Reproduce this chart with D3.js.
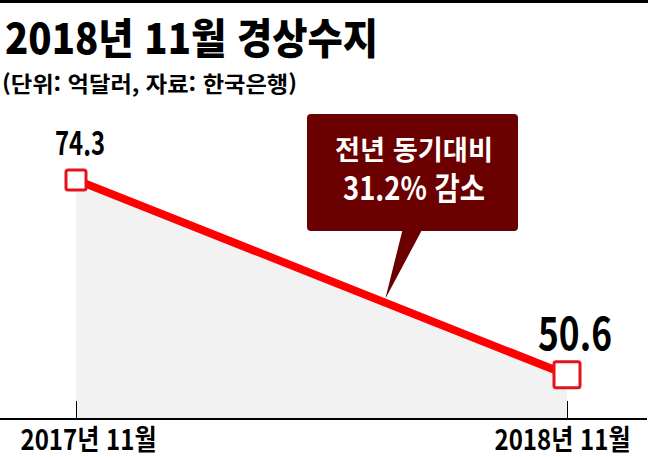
<!DOCTYPE html>
<html lang="ko">
<head>
    <meta charset="utf-8">
    <title>2018년 11월 경상수지</title>
    <style>
        body {
            margin: 0;
            background: #fff;
        }
        svg text {
            font-family: "Noto Sans CJK KR", "Noto Sans", sans-serif;
        }
    </style>
</head>
<body>
    <div id="chart"></div>

    <script src="https://d3js.org/d3.v7.min.js"></script>
    <script>
        // Data
        const months = ["2017년 11월", "2018년 11월"];
        const balance = [74.3, 50.6];
        const titleText = "2018년 11월 경상수지";
        const subtitleText = "(단위: 억달러, 자료: 한국은행)";
        const noteLines = ["전년 동기대비", "31.2% 감소"];

        const width = 648, height = 457;
        const baseY = 419;

        const svg = d3.select("#chart")
            .append("svg")
            .attr("width", width)
            .attr("height", height);

        // top rule
        svg.append("rect")
            .attr("x", 0).attr("y", 0)
            .attr("width", width).attr("height", 3)
            .attr("fill", "#000");

        // title + subtitle
        svg.append("text")
            .attr("x", 5).attr("y", 54)
            .attr("font-size", 42)
            .attr("font-weight", 900)
            .attr("textLength", 373)
            .attr("lengthAdjust", "spacingAndGlyphs")
            .text(titleText);

        svg.append("text")
            .attr("x", 2).attr("y", 92)
            .attr("font-size", 22)
            .attr("font-weight", 700)
            .attr("textLength", 295)
            .attr("lengthAdjust", "spacingAndGlyphs")
            .text(subtitleText);

        // Scales
        const x = d3.scalePoint().domain(months).range([76, 567]);
        const y = d3.scaleLinear().domain([40, 80]).range([462, 133]);

        const pts = months.map((m, i) => ({ m, v: balance[i] }));

        // grey area under the line
        const area = d3.area()
            .x(d => x(d.m))
            .y0(baseY)
            .y1(d => y(d.v));

        svg.append("path")
            .datum(pts)
            .attr("d", area)
            .attr("fill", "#f2f2f2");

        // axis: ticks pointing up, labels below
        const axis = svg.append("g")
            .attr("transform", `translate(0,${baseY})`)
            .call(d3.axisBottom(x).tickSize(-18).tickPadding(13));
        axis.select(".domain").remove();
        axis.selectAll(".tick line").attr("stroke", "#000").attr("stroke-width", 1);
        axis.selectAll(".tick text")
            .attr("fill", "#000")
            .attr("font-size", 28)
            .attr("font-weight", 700)
            .attr("dy", "0.64em")
            .attr("textLength", 136)
            .attr("lengthAdjust", "spacingAndGlyphs")
            .attr("dx", (d, i) => i === 0 ? 12 : -5);

        // baseline
        svg.append("line")
            .attr("x1", 0).attr("x2", width - 1)
            .attr("y1", baseY).attr("y2", baseY)
            .attr("stroke", "#000")
            .attr("stroke-width", 2);

        // red line
        const line = d3.line().x(d => x(d.m)).y(d => y(d.v));
        svg.append("path")
            .datum(pts)
            .attr("d", line)
            .attr("fill", "none")
            .attr("stroke", "#ff0000")
            .attr("stroke-width", 8);

        // markers
        const sizes = [20, 26];
        svg.selectAll("rect.marker")
            .data(pts)
            .join("rect")
            .attr("class", "marker")
            .attr("x", (d, i) => x(d.m) - sizes[i] / 2)
            .attr("y", (d, i) => y(d.v) - sizes[i] / 2)
            .attr("width", (d, i) => sizes[i])
            .attr("height", (d, i) => sizes[i])
            .attr("rx", 2)
            .attr("fill", "#fff")
            .attr("stroke", "#e3131b")
            .attr("stroke-width", 3);

        // value labels
        const lblSize = [32, 45], lblLen = [50, 74], lblDx = [4, 8], lblGap = [25, 25];
        svg.selectAll("text.val")
            .data(pts)
            .join("text")
            .attr("class", "val")
            .attr("x", (d, i) => x(d.m) + lblDx[i])
            .attr("y", (d, i) => y(d.v) - lblGap[i])
            .attr("text-anchor", "middle")
            .attr("font-size", (d, i) => lblSize[i])
            .attr("font-weight", 700)
            .attr("textLength", (d, i) => lblLen[i])
            .attr("lengthAdjust", "spacingAndGlyphs")
            .text(d => d.v.toFixed(1));

        // annotation callout
        const boxColor = "#6b0000";
        const t = 0.63;
        const tipX = x(months[0]) + t * (x(months[1]) - x(months[0]));
        const tipY = y(balance[0]) + t * (y(balance[1]) - y(balance[0])) - 4;

        svg.append("path")
            .attr("d", `M403,228 L423,228 L${tipX},${tipY} Z`)
            .attr("fill", boxColor);

        svg.append("rect")
            .attr("x", 307).attr("y", 114)
            .attr("width", 211).attr("height", 117)
            .attr("rx", 4)
            .attr("fill", boxColor);

        const noteSize = [27, 32], noteY = [160, 200], noteLen = [158, 142];
        svg.selectAll("text.note")
            .data(noteLines)
            .join("text")
            .attr("class", "note")
            .attr("x", 414)
            .attr("y", (d, i) => noteY[i])
            .attr("text-anchor", "middle")
            .attr("fill", "#fff")
            .attr("font-size", (d, i) => noteSize[i])
            .attr("font-weight", 700)
            .attr("textLength", (d, i) => noteLen[i])
            .attr("lengthAdjust", "spacingAndGlyphs")
            .text(d => d);
    </script>
</body>
</html>
